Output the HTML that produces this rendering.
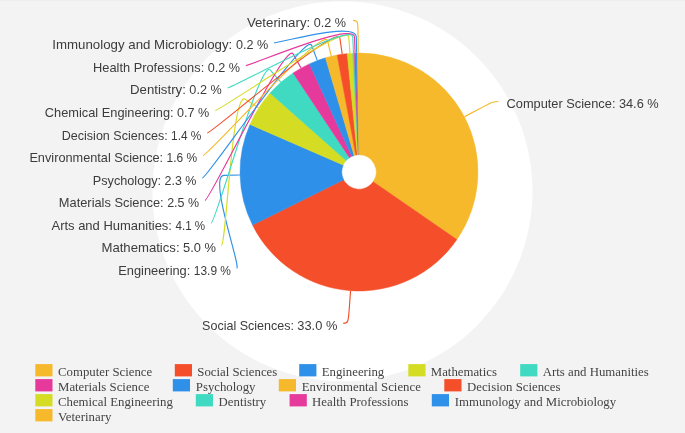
<!DOCTYPE html>
<html><head><meta charset="utf-8"><title>Subject areas</title>
<style>
html,body{margin:0;padding:0}
body{width:685px;height:433px;background:#f3f3f3;position:relative;overflow:hidden;font-family:"Liberation Serif",serif}
svg{position:absolute;left:0;top:0;will-change:transform}
svg text{font-family:"Liberation Sans",sans-serif;font-size:13px;fill:#3c3c3c}
#conn path{fill:none;stroke-width:1.15}
svg #legend text{font-family:"Liberation Serif",serif;font-size:12.8px;fill:#444}
</style></head><body>
<svg width="685" height="433" viewBox="0 0 685 433">
<circle id="disc" cx="342.45" cy="191.3" r="190" fill="#fff"/>
<rect x="0" y="0" width="685" height="1" fill="#eeeeee"/>
<g id="pie">
<path d="M359 53.05A118.95 118.95 0 0 1 456.87 239.6L373.15 181.78A17.2 17.2 0 0 0 359 154.8Z" fill="#f6b92b" stroke="#f6b92b" stroke-width="0.5" stroke-linejoin="round"/>
<path d="M456.87 239.6A118.95 118.95 0 0 1 252.54 225.06L343.61 179.67A17.2 17.2 0 0 0 373.15 181.78Z" fill="#f44e2b" stroke="#f44e2b" stroke-width="0.5" stroke-linejoin="round"/>
<path d="M252.54 225.06A118.95 118.95 0 0 1 249.98 124.42L343.24 165.12A17.2 17.2 0 0 0 343.61 179.67Z" fill="#2e90e8" stroke="#2e90e8" stroke-width="0.5" stroke-linejoin="round"/>
<path d="M249.98 124.42A118.95 118.95 0 0 1 270.03 93.05L346.14 160.58A17.2 17.2 0 0 0 343.24 165.12Z" fill="#d4dc23" stroke="#d4dc23" stroke-width="0.5" stroke-linejoin="round"/>
<path d="M270.03 93.05A118.95 118.95 0 0 1 293.1 72.97L349.47 157.68A17.2 17.2 0 0 0 346.14 160.58Z" fill="#3fdac1" stroke="#3fdac1" stroke-width="0.5" stroke-linejoin="round"/>
<path d="M293.1 72.97A118.95 118.95 0 0 1 309.41 63.88L351.83 156.37A17.2 17.2 0 0 0 349.47 157.68Z" fill="#e5399c" stroke="#e5399c" stroke-width="0.5" stroke-linejoin="round"/>
<path d="M309.41 63.88A118.95 118.95 0 0 1 325.51 57.86L354.16 155.5A17.2 17.2 0 0 0 351.83 156.37Z" fill="#2e90e8" stroke="#2e90e8" stroke-width="0.5" stroke-linejoin="round"/>
<path d="M325.51 57.86A118.95 118.95 0 0 1 337.14 55.08L355.84 155.09A17.2 17.2 0 0 0 354.16 155.5Z" fill="#f6b92b" stroke="#f6b92b" stroke-width="0.5" stroke-linejoin="round"/>
<path d="M337.14 55.08A118.95 118.95 0 0 1 347.28 53.63L357.31 154.88A17.2 17.2 0 0 0 355.84 155.09Z" fill="#f44e2b" stroke="#f44e2b" stroke-width="0.5" stroke-linejoin="round"/>
<path d="M347.28 53.63A118.95 118.95 0 0 1 352.72 53.22L358.09 154.82A17.2 17.2 0 0 0 357.31 154.88Z" fill="#d4dc23" stroke="#d4dc23" stroke-width="0.5" stroke-linejoin="round"/>
<path d="M352.72 53.22A118.95 118.95 0 0 1 354.29 53.14L358.32 154.81A17.2 17.2 0 0 0 358.09 154.82Z" fill="#3fdac1" stroke="#3fdac1" stroke-width="0.5" stroke-linejoin="round"/>
<path d="M354.29 53.14A118.95 118.95 0 0 1 355.86 53.09L358.55 154.81A17.2 17.2 0 0 0 358.32 154.81Z" fill="#e5399c" stroke="#e5399c" stroke-width="0.5" stroke-linejoin="round"/>
<path d="M355.86 53.09A118.95 118.95 0 0 1 357.43 53.06L358.77 154.8A17.2 17.2 0 0 0 358.55 154.81Z" fill="#2e90e8" stroke="#2e90e8" stroke-width="0.5" stroke-linejoin="round"/>
<path d="M357.43 53.06A118.95 118.95 0 0 1 359 53.05L359 154.8A17.2 17.2 0 0 0 358.77 154.8Z" fill="#f6b92b" stroke="#f6b92b" stroke-width="0.5" stroke-linejoin="round"/>
</g>
<g id="conn">
<path d="M498.42 101.48C493.42 101.48 492.72 101.85 478.64 109.24L464.56 116.62" stroke="#f6b92b"/>
<path d="M343.22 323.42C348.22 323.42 348.28 322.62 349.41 306.76L350.54 290.9" stroke="#f44e2b"/>
<path d="M236.6 268.23C241.6 268.23 208.05 175.84 223.94 175.44L239.84 175.03" stroke="#2e90e8"/>
<path d="M221.29 245.7C226.29 245.7 231.76 90.69 245.16 99.25L258.56 107.81" stroke="#d4dc23"/>
<path d="M211.08 223.17C216.08 223.17 259.88 58.09 270.32 70.08L280.75 82.08" stroke="#3fdac1"/>
<path d="M204.93 200.64C209.93 200.64 285.47 40.11 293.21 54L300.95 67.89" stroke="#e5399c"/>
<path d="M202.32 178.11C207.32 178.11 306.13 30.56 311.7 45.45L317.26 60.35" stroke="#2e90e8"/>
<path d="M203.09 155.58C208.09 155.58 323.82 25.15 327.53 40.62L331.23 56.08" stroke="#f6b92b"/>
<path d="M207.28 133.05C212.28 133.05 337.66 22.51 339.91 38.26L342.16 54" stroke="#f44e2b"/>
<path d="M215.21 110.52C220.21 110.52 347.57 21.43 348.77 37.29L349.98 53.14" stroke="#d4dc23"/>
<path d="M227.57 87.99C232.57 87.99 352.02 21.16 352.76 37.04L353.49 52.93" stroke="#3fdac1"/>
<path d="M245.87 65.46C250.87 65.46 354.02 21.08 354.54 36.97L355.07 52.86" stroke="#e5399c"/>
<path d="M274.1 42.93C279.1 42.93 356.01 21.03 356.32 36.93L356.64 52.82" stroke="#2e90e8"/>
<path d="M353 20.4C358 20.4 358 21 358.11 36.9L358.21 52.8" stroke="#f6b92b"/>
</g>
<g id="labels">
<text y="107.78" text-anchor="end"><tspan x="619.02" textLength="112.5" lengthAdjust="spacingAndGlyphs">Computer Science: </tspan><tspan x="658.72" textLength="39.8" lengthAdjust="spacingAndGlyphs">34.6 %</tspan></text>
<text y="329.72" text-anchor="end"><tspan x="297.42" textLength="95.3" lengthAdjust="spacingAndGlyphs">Social Sciences: </tspan><tspan x="337.32" textLength="40" lengthAdjust="spacingAndGlyphs">33.0 %</tspan></text>
<text y="274.73" text-anchor="end"><tspan x="193.9" textLength="75.6" lengthAdjust="spacingAndGlyphs">Engineering: </tspan><tspan x="231" textLength="37.2" lengthAdjust="spacingAndGlyphs">13.9 %</tspan></text>
<text y="252.2" text-anchor="end"><tspan x="183.19" textLength="81.7" lengthAdjust="spacingAndGlyphs">Mathematics: </tspan><tspan x="216.09" textLength="33" lengthAdjust="spacingAndGlyphs">5.0 %</tspan></text>
<text y="229.67" text-anchor="end"><tspan x="175.58" textLength="124.1" lengthAdjust="spacingAndGlyphs">Arts and Humanities: </tspan><tspan x="205.18" textLength="29.7" lengthAdjust="spacingAndGlyphs">4.1 %</tspan></text>
<text y="207.14" text-anchor="end"><tspan x="167.23" textLength="108.4" lengthAdjust="spacingAndGlyphs">Materials Science: </tspan><tspan x="199.03" textLength="31.9" lengthAdjust="spacingAndGlyphs">2.5 %</tspan></text>
<text y="184.61" text-anchor="end"><tspan x="164.62" textLength="71.8" lengthAdjust="spacingAndGlyphs">Psychology: </tspan><tspan x="196.42" textLength="31.9" lengthAdjust="spacingAndGlyphs">2.3 %</tspan></text>
<text y="162.08" text-anchor="end"><tspan x="166.69" textLength="137.3" lengthAdjust="spacingAndGlyphs">Environmental Science: </tspan><tspan x="197.19" textLength="30.6" lengthAdjust="spacingAndGlyphs">1.6 %</tspan></text>
<text y="139.55" text-anchor="end"><tspan x="171.18" textLength="109.4" lengthAdjust="spacingAndGlyphs">Decision Sciences: </tspan><tspan x="201.38" textLength="30.3" lengthAdjust="spacingAndGlyphs">1.4 %</tspan></text>
<text y="117.02" text-anchor="end"><tspan x="177.21" textLength="132.4" lengthAdjust="spacingAndGlyphs">Chemical Engineering: </tspan><tspan x="209.31" textLength="32.2" lengthAdjust="spacingAndGlyphs">0.7 %</tspan></text>
<text y="94.49" text-anchor="end"><tspan x="189.47" textLength="59.4" lengthAdjust="spacingAndGlyphs">Dentistry: </tspan><tspan x="221.67" textLength="32.3" lengthAdjust="spacingAndGlyphs">0.2 %</tspan></text>
<text y="71.96" text-anchor="end"><tspan x="207.77" textLength="114.7" lengthAdjust="spacingAndGlyphs">Health Professions: </tspan><tspan x="239.97" textLength="32.3" lengthAdjust="spacingAndGlyphs">0.2 %</tspan></text>
<text y="49.43" text-anchor="end"><tspan x="236" textLength="183.7" lengthAdjust="spacingAndGlyphs">Immunology and Microbiology: </tspan><tspan x="268.2" textLength="32.3" lengthAdjust="spacingAndGlyphs">0.2 %</tspan></text>
<text y="26.9" text-anchor="end"><tspan x="313.9" textLength="67" lengthAdjust="spacingAndGlyphs">Veterinary: </tspan><tspan x="346.1" textLength="32.3" lengthAdjust="spacingAndGlyphs">0.2 %</tspan></text>
</g>
<g id="legend">
<rect x="35.3" y="364.1" width="17.2" height="12.3" fill="#f6b92b"/><text x="58" y="375.7">Computer Science</text>
<rect x="174.8" y="364.1" width="17.2" height="12.3" fill="#f44e2b"/><text x="197.3" y="375.7">Social Sciences</text>
<rect x="299.2" y="364.1" width="17.2" height="12.3" fill="#2e90e8"/><text x="321.7" y="375.7">Engineering</text>
<rect x="408.3" y="364.1" width="17.2" height="12.3" fill="#d4dc23"/><text x="430.8" y="375.7">Mathematics</text>
<rect x="520.2" y="364.1" width="17.2" height="12.3" fill="#3fdac1"/><text x="542.8" y="375.7">Arts and Humanities</text>
<rect x="35.3" y="379.1" width="17.2" height="12.3" fill="#e5399c"/><text x="58" y="390.7">Materials Science</text>
<rect x="172.8" y="379.1" width="17.2" height="12.3" fill="#2e90e8"/><text x="195.8" y="390.7">Psychology</text>
<rect x="278.8" y="379.1" width="17.2" height="12.3" fill="#f6b92b"/><text x="301.8" y="390.7">Environmental Science</text>
<rect x="444.3" y="379.1" width="17.2" height="12.3" fill="#f44e2b"/><text x="467" y="390.7">Decision Sciences</text>
<rect x="35.3" y="394.1" width="17.2" height="12.3" fill="#d4dc23"/><text x="58" y="405.7">Chemical Engineering</text>
<rect x="195.8" y="394.1" width="17.2" height="12.3" fill="#3fdac1"/><text x="218.6" y="405.7">Dentistry</text>
<rect x="289.6" y="394.1" width="17.2" height="12.3" fill="#e5399c"/><text x="312.1" y="405.7">Health Professions</text>
<rect x="431.8" y="394.1" width="17.2" height="12.3" fill="#2e90e8"/><text x="454.8" y="405.7">Immunology and Microbiology</text>
<rect x="35.3" y="409.1" width="17.2" height="12.3" fill="#f6b92b"/><text x="58" y="420.7">Veterinary</text>
</g>
</svg>

</body></html>
